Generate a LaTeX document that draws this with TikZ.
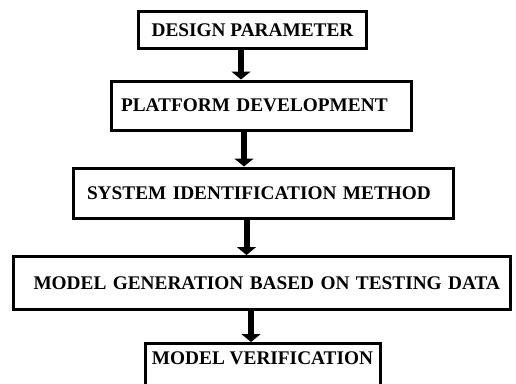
\documentclass[tikz,border=0pt]{standalone}
\usepackage{fontspec}
\setmainfont{Liberation Serif}
\usetikzlibrary{arrows.meta}
\begin{document}
\begin{tikzpicture}[x=1pt,y=-1pt,>={Triangle[width=19pt,length=8pt]}, font=\fontsize{19.3}{23}\selectfont\bfseries, line join=miter]
			\tikzset{block style/.style={draw,line width=3pt},
				flow style/.style={->,line width=6pt}}
			\useasboundingbox (0,0) rectangle (516,383);
			\node[block style,minimum width=228pt,minimum height=37pt] (dp) at (252.5,30) {DESIGN PARAMETER};
			\node[block style,minimum width=300pt,minimum height=49.5pt,text width=281pt,align=left] (pd) at (261.5,105.75) {PLATFORM DEVELOPMENT};
			\node[block style,minimum width=380pt,minimum height=50.5pt,text width=353pt,align=left] (sim) at (263.5,193.25) {SYSTEM IDENTIFICATION METHOD};
			\node[block style,minimum width=496.5pt,minimum height=53pt,text width=476.5pt,align=right] (mg) at (261.75,283) {MODEL GENERATION BASED ON TESTING DATA};
			\node[block style,minimum width=235pt,minimum height=46pt,text depth=17pt] (mv) at (262.5,366.5) {MODEL VERIFICATION};
			\draw[flow style] (dp.south -| 241,0) -- (pd.north -| 241,0);
			\draw[flow style] (pd.south -| 244,0) -- (sim.north -| 244,0);
			\draw[flow style] (sim.south -| 246.5,0) -- (mg.north -| 246.5,0);
			\draw[flow style] (mg.south -| 251,0) -- (mv.north -| 251,0);
	\end{tikzpicture}
\end{document}
